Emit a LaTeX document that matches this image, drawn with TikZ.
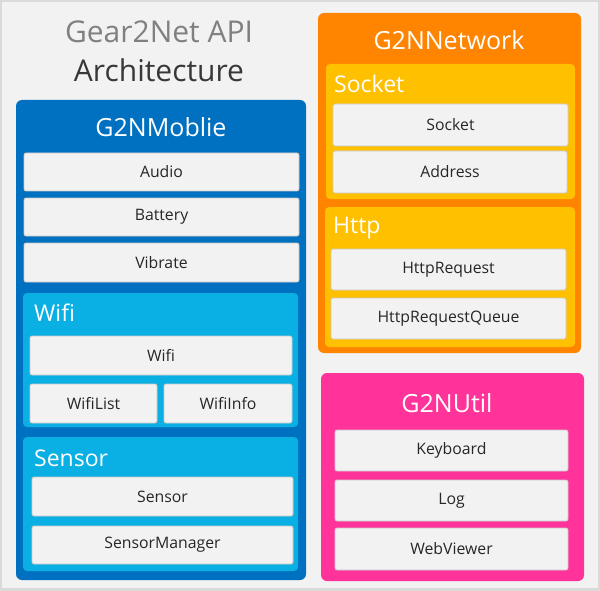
\documentclass[tikz,border=0pt]{standalone}
\usepackage{fontspec}
\setmainfont{Open Sans}
\usetikzlibrary{positioning}

\definecolor{bgGray}{HTML}{F2F2F2}
\definecolor{edgeGray}{HTML}{DADADA}
\definecolor{mobBlue}{HTML}{0070C0}
\definecolor{subBlue}{HTML}{0AAFE4}
\definecolor{netOrange}{HTML}{FF8500}
\definecolor{subYellow}{HTML}{FFC000}
\definecolor{utilPink}{HTML}{FF3399}
\definecolor{itemEdge}{HTML}{C9C9C9}
\definecolor{itemText}{HTML}{262626}

\tikzset{
  item/.style={draw=itemEdge, fill=bgGray, rounded corners=2pt, line width=0.8pt,
    inner sep=0pt, text=itemText, font=\fontsize{15.8}{19}\selectfont},
  grouptitle/.style={text=white, inner sep=0pt, font=\fontsize{25}{30}\selectfont},
  subtitle/.style={text=white, inner sep=0pt, anchor=west, font=\fontsize{23}{28}\selectfont},
}

\begin{document}
\begin{tikzpicture}[x=1pt,y=-1pt]

			% background
			\fill[edgeGray] (0,0) rectangle (600,591);
			\fill[bgGray] (2,2) rectangle (598,588);
			\useasboundingbox (0,0) rectangle (600,591);

			\node[text=black!50, inner sep=0pt, font=\fontsize{30}{36}\selectfont] (title1) at (159,32) {Gear2Net API};
			\node[text=black!78, inner sep=0pt, font=\fontsize{30}{36}\selectfont] (title2) at (159,70) {Architecture};

			% G2NMoblie
			\begin{scope}
				\fill[mobBlue, rounded corners=6pt] (16,100) rectangle (306,580);
				\node[grouptitle] (mobile) at (161,127) {G2NMoblie};

				\node[item, minimum width=275pt, minimum height=38pt] (audio) at (161.5,172) {Audio};
				\node[item, minimum width=275pt, minimum height=38pt] (battery) at (161.5,217) {Battery};
				\node[item, minimum width=275pt, minimum height=39pt] (vibrate) at (161.5,262.5) {Vibrate};

				\fill[subBlue, rounded corners=4pt] (23,293) rectangle (298,427);
				\node[subtitle] (wifigroup) at (34,313) {Wifi};
				\node[item, minimum width=262pt, minimum height=39pt] (wifi) at (161,355.5) {Wifi};
				\node[item, minimum width=127pt, minimum height=39pt] (wifilist) at (93.5,403.5) {WifiList};
				\node[item, minimum width=128pt, minimum height=39pt] (wifiinfo) at (228,403.5) {WifiInfo};

				\fill[subBlue, rounded corners=4pt] (23,437) rectangle (298,571);
				\node[subtitle] (sensorgroup) at (34,458) {Sensor};
				\node[item, minimum width=261pt, minimum height=39pt] (sensor) at (162.5,496.5) {Sensor};
				\node[item, minimum width=261pt, minimum height=38pt] (sensormgr) at (162.5,545) {SensorManager};
			\end{scope}

			% G2NNetwork
			\begin{scope}
				\fill[netOrange, rounded corners=6pt] (318,13) rectangle (581,353);
				\node[grouptitle] (network) at (449,40) {G2NNetwork};

				\fill[subYellow, rounded corners=4pt] (326,64) rectangle (575,199);
				\node[subtitle] (socketgroup) at (334,84) {Socket};
				\node[item, minimum width=235pt, minimum height=42pt] (socket) at (450.5,125) {Socket};
				\node[item, minimum width=234pt, minimum height=42pt] (address) at (450,172) {Address};

				\fill[subYellow, rounded corners=4pt] (325,207) rectangle (575,347);
				\node[subtitle] (httpgroup) at (333,228) {Http};
				\node[item, minimum width=235pt, minimum height=41pt] (httpreq) at (448.5,269.5) {HttpRequest};
				\node[item, minimum width=235pt, minimum height=41pt] (httpqueue) at (448.5,318.5) {HttpRequestQueue};
			\end{scope}

			% G2NUtil
			\begin{scope}
				\fill[utilPink, rounded corners=6pt] (321,373) rectangle (584,581);
				\node[grouptitle] (util) at (447,403) {G2NUtil};

				\node[item, minimum width=233pt, minimum height=41pt] (keyboard) at (451.5,450.5) {Keyboard};
				\node[item, minimum width=233pt, minimum height=41pt] (log) at (451.5,500.5) {Log};
				\node[item, minimum width=233pt, minimum height=42pt] (webviewer) at (451.5,549) {WebViewer};
			\end{scope}

		\end{tikzpicture}
\end{document}
